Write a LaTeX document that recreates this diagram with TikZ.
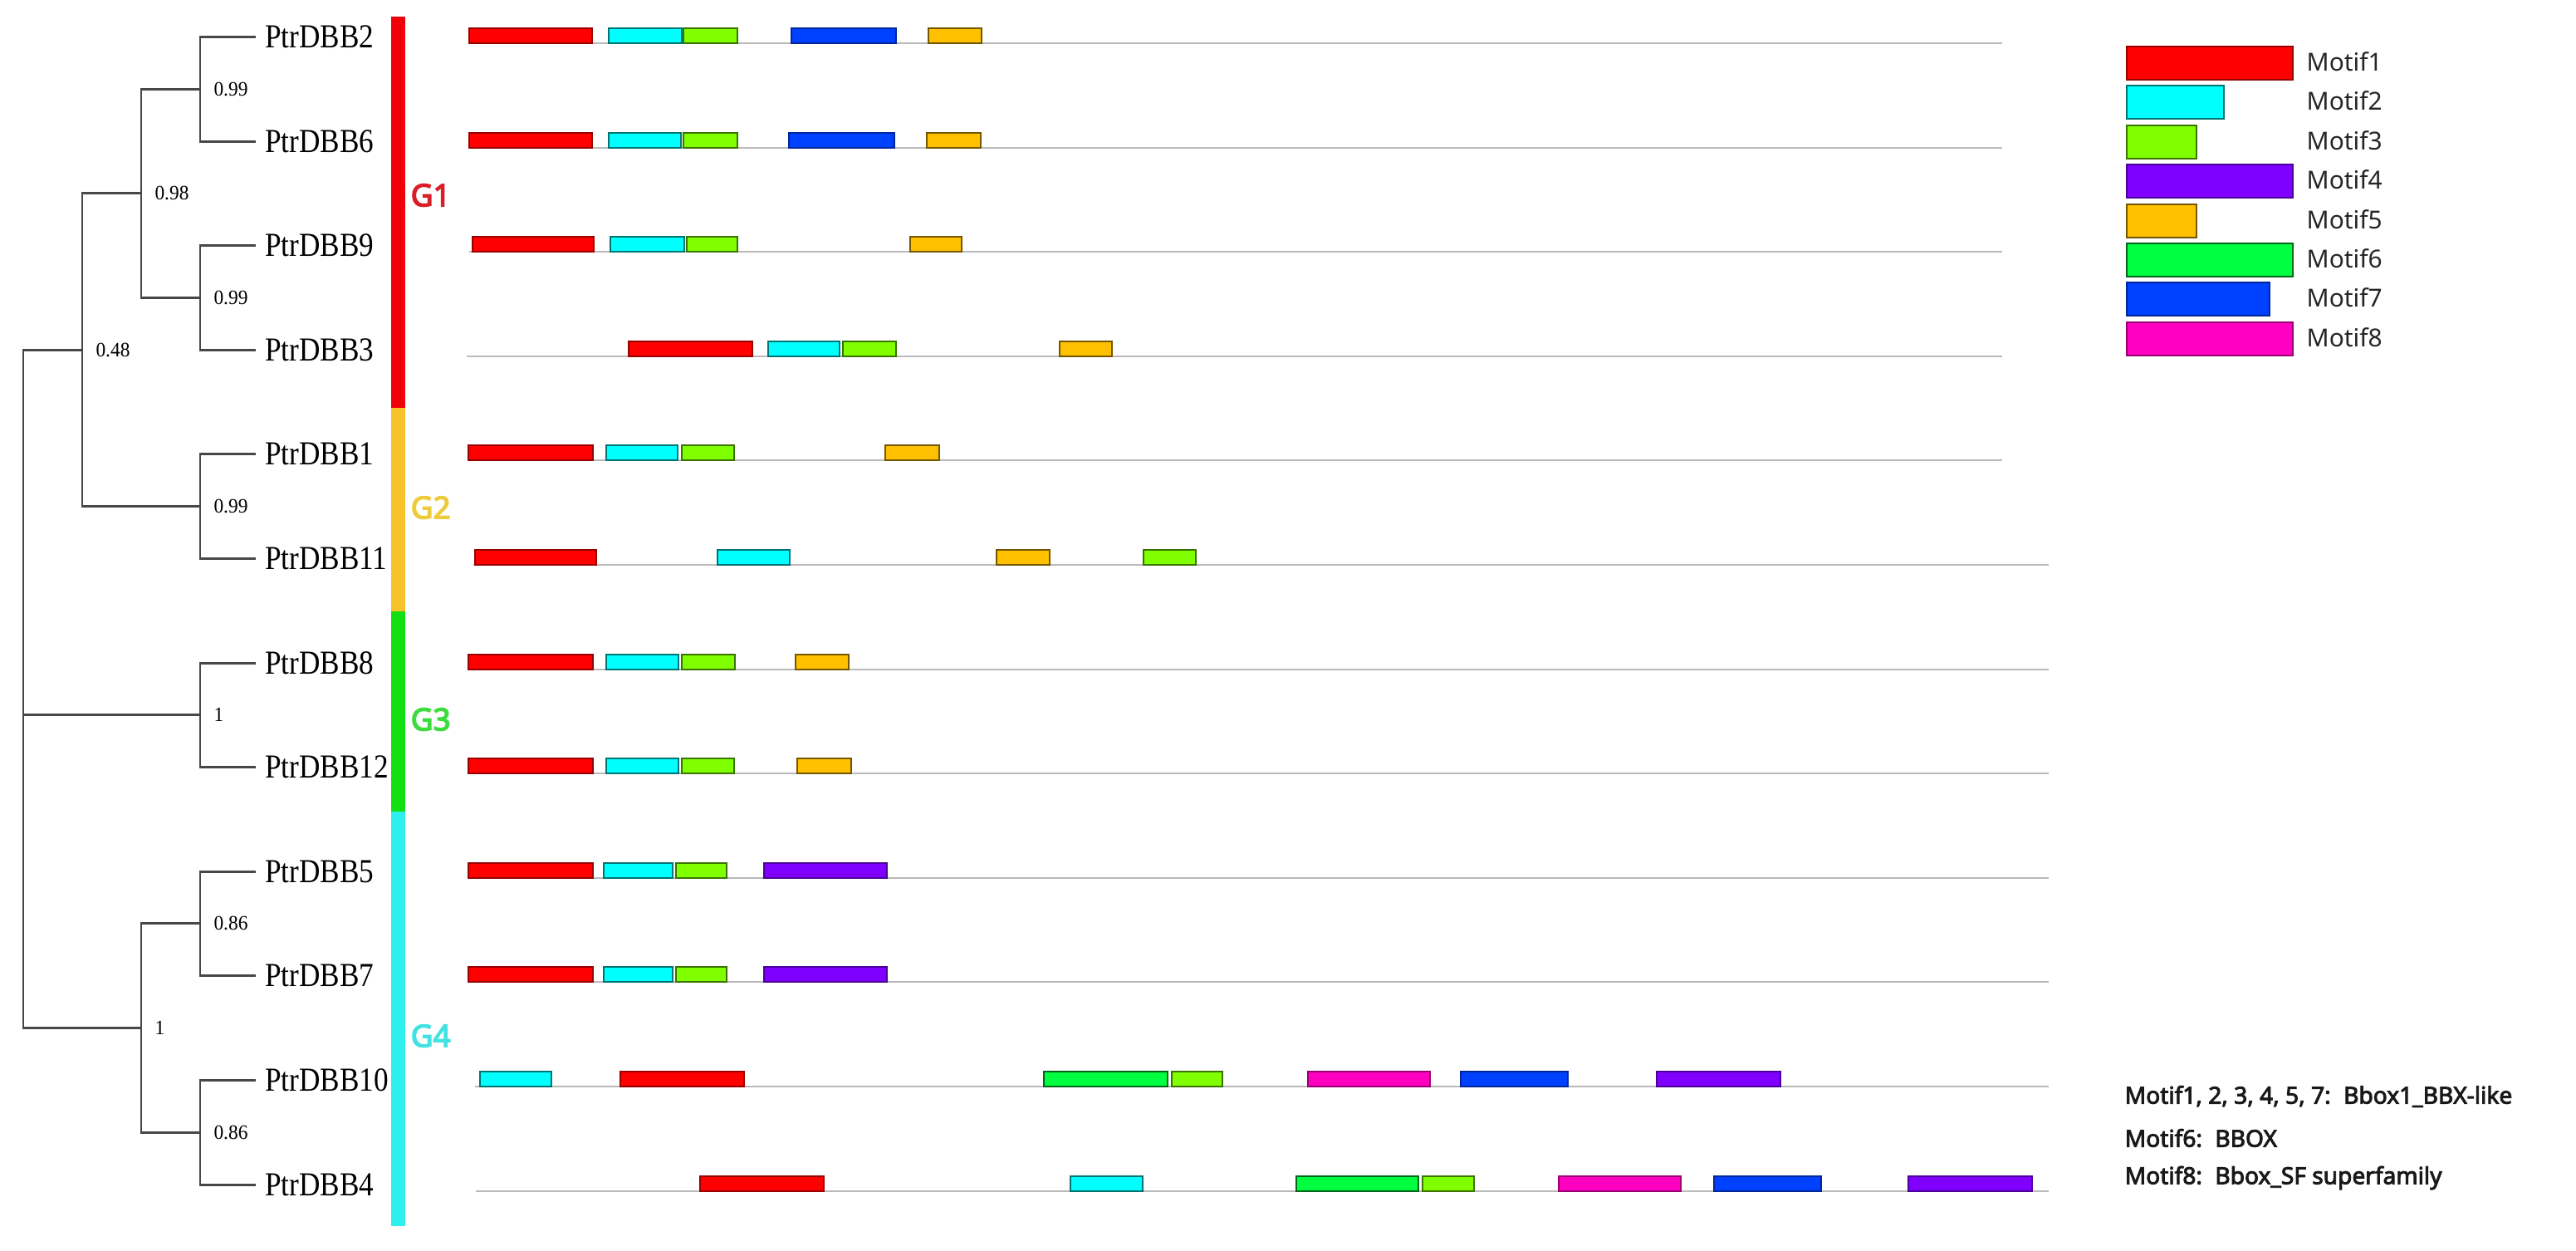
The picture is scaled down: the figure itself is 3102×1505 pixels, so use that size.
\documentclass[tikz,border=0pt]{standalone}
\usepackage{fontspec}
\setmainfont{Liberation Serif}
\newfontfamily\leaffont[FakeStretch=0.87]{Liberation Serif}
\newfontfamily\bootfont[FakeStretch=0.95]{Liberation Serif}
\newfontfamily\uifont{Noto Sans}
\newfontfamily\uibold[FakeBold=4]{Noto Sans}
\newfontfamily\notebold[FakeBold=3.2]{Noto Sans}
\definecolor{M1}{HTML}{FF0000}
\definecolor{M2}{HTML}{00FFFF}
\definecolor{M3}{HTML}{80FF00}
\definecolor{M4}{HTML}{8000FF}
\definecolor{M5}{HTML}{FFC000}
\definecolor{M6}{HTML}{00FF40}
\definecolor{M7}{HTML}{0040FF}
\definecolor{M8}{HTML}{FF00C0}
\definecolor{GB1}{HTML}{F00008}
\definecolor{GB2}{HTML}{F7C22A}
\definecolor{GB3}{HTML}{12E012}
\definecolor{GB4}{HTML}{2EEEEE}
\definecolor{GT1}{HTML}{D81E28}
\definecolor{GT2}{HTML}{ECCB3C}
\definecolor{GT3}{HTML}{3CDC3C}
\definecolor{GT4}{HTML}{40E2E2}
\tikzset{
  tree/.style={draw=black!72, line width=0.85pt},
  gline/.style={draw=black!27, line width=0.8pt},
  leaf/.style={anchor=west, inner xsep=3pt, inner ysep=1pt, font=\leaffont\fontsize{11.5}{12}\selectfont},
  boot/.style={anchor=west, inner sep=0.5pt, font=\bootfont\fontsize{7}{8}\selectfont},
  grp/.style={anchor=west, inner sep=0pt, font=\uibold\fontsize{10.5}{11}\selectfont},
  legtxt/.style={anchor=west, inner sep=0pt, text=black!85, font=\uifont\fontsize{8.5}{9}\selectfont},
  note/.style={anchor=west, inner sep=0pt, text=black!90, font=\notebold\fontsize{8}{9}\selectfont},
  m1/.style={fill=M1, draw=M1!60!black, line width=0.45pt},
  m2/.style={fill=M2, draw=M2!45!black, line width=0.45pt},
  m3/.style={fill=M3, draw=M3!45!black, line width=0.45pt},
  m4/.style={fill=M4, draw=M4!60!black, line width=0.45pt},
  m5/.style={fill=M5, draw=M5!45!black, line width=0.45pt},
  m6/.style={fill=M6, draw=M6!40!black, line width=0.45pt},
  m7/.style={fill=M7, draw=M7!60!black, line width=0.45pt},
  m8/.style={fill=M8, draw=M8!60!black, line width=0.45pt},
}
\newcommand\motifbar[4]{\draw[m#1] (#3,#2-18) rectangle (#4,#2);}
\newcommand\legbar[4]{\draw[m#1] (2561,#2-20) rectangle (#3,#2+20);
  \node[legtxt] (leg#1) at (2777,#2-2) {#4};}
\begin{document}
\begin{tikzpicture}[x=0.01cm, y=-0.01cm]
\useasboundingbox (0,0) rectangle (3102,1505);

% ---------- tree: internal nodes ----------
\coordinate (na) at (241,107);
\coordinate (nb) at (241,358);
\coordinate (nc) at (170,232.5);
\coordinate (nd) at (241,609);
\coordinate (ne) at (99,421);
\coordinate (nf) at (241,860.5);
\coordinate (ng) at (241,1111.5);
\coordinate (nh) at (241,1363);
\coordinate (nk) at (170,1237);
\coordinate (nr) at (28,860.5);

% ---------- leaves ----------
\node[leaf] (DBB2)  at (308,44)   {PtrDBB2};
\node[leaf] (DBB6)  at (308,170)  {PtrDBB6};
\node[leaf] (DBB9)  at (308,295)  {PtrDBB9};
\node[leaf] (DBB3)  at (308,421)  {PtrDBB3};
\node[leaf] (DBB1)  at (308,546)  {PtrDBB1};
\node[leaf] (DBB11) at (308,672)  {PtrDBB11};
\node[leaf] (DBB8)  at (308,798)  {PtrDBB8};
\node[leaf] (DBB12) at (308,923)  {PtrDBB12};
\node[leaf] (DBB5)  at (308,1049) {PtrDBB5};
\node[leaf] (DBB7)  at (308,1174) {PtrDBB7};
\node[leaf] (DBB10) at (308,1300) {PtrDBB10};
\node[leaf] (DBB4)  at (308,1426) {PtrDBB4};

% ---------- branches ----------
\draw[tree] (na) |- (DBB2.west);  \draw[tree] (na) |- (DBB6.west);
\draw[tree] (nb) |- (DBB9.west);  \draw[tree] (nb) |- (DBB3.west);
\draw[tree] (nd) |- (DBB1.west);  \draw[tree] (nd) |- (DBB11.west);
\draw[tree] (nf) |- (DBB8.west);  \draw[tree] (nf) |- (DBB12.west);
\draw[tree] (ng) |- (DBB5.west);  \draw[tree] (ng) |- (DBB7.west);
\draw[tree] (nh) |- (DBB10.west); \draw[tree] (nh) |- (DBB4.west);
\draw[tree] (nc) |- (na); \draw[tree] (nc) |- (nb);
\draw[tree] (ne) |- (nc); \draw[tree] (ne) |- (nd);
\draw[tree] (nk) |- (ng); \draw[tree] (nk) |- (nh);
\draw[tree] (nr) |- (ne); \draw[tree] (nr) |- (nk); \draw[tree] (nr) -- (nf);

% ---------- support values ----------
\node[boot] (ba) at ([xshift=4]na) {0.99};
\node[boot] (bb) at ([xshift=4]nb) {0.99};
\node[boot] (bc) at ([xshift=4]nc) {0.98};
\node[boot] (bd) at ([xshift=4]nd) {0.99};
\node[boot] (be) at ([xshift=4]ne) {0.48};
\node[boot] (bf) at ([xshift=4]nf) {1};
\node[boot] (bg) at ([xshift=4]ng) {0.86};
\node[boot] (bh) at ([xshift=4]nh) {0.86};
\node[boot] (bk) at ([xshift=4]nk) {1};

% ---------- group bar ----------
\fill[GB1] (471,20) rectangle (488,491);
\fill[GB2] (471,491) rectangle (488,736);
\fill[GB3] (471,736) rectangle (488,977);
\fill[GB4] (471,977) rectangle (488,1476);
\node[grp, text=GT1] (G1) at (494,235) {G1};
\node[grp, text=GT2] (G2) at (494,611) {G2};
\node[grp, text=GT3] (G3) at (494,866) {G3};
\node[grp, text=GT4] (G4) at (494,1247) {G4};

% ---------- gene lines ----------
\draw[gline] (565,52) -- (2411,52);
\draw[gline] (565,178) -- (2411,178);
\draw[gline] (565,303) -- (2411,303);
\draw[gline] (562,429) -- (2411,429);
\draw[gline] (565,554) -- (2411,554);
\draw[gline] (570,680) -- (2467,680);
\draw[gline] (565,806) -- (2467,806);
\draw[gline] (565,931) -- (2467,931);
\draw[gline] (565,1057) -- (2467,1057);
\draw[gline] (565,1182) -- (2467,1182);
\draw[gline] (572,1308) -- (2467,1308);
\draw[gline] (573,1434) -- (2467,1434);

% ---------- motifs ----------
% PtrDBB2
\motifbar{1}{52}{565}{713}\motifbar{2}{52}{733}{821}\motifbar{3}{52}{823}{888}
\motifbar{7}{52}{953}{1079}\motifbar{5}{52}{1118}{1182}
% PtrDBB6
\motifbar{1}{178}{565}{713}\motifbar{2}{178}{733}{820}\motifbar{3}{178}{823}{888}
\motifbar{7}{178}{950}{1077}\motifbar{5}{178}{1116}{1181}
% PtrDBB9
\motifbar{1}{303}{569}{715}\motifbar{2}{303}{735}{824}\motifbar{3}{303}{827}{888}
\motifbar{5}{303}{1096}{1158}
% PtrDBB3
\motifbar{1}{429}{757}{906}\motifbar{2}{429}{925}{1011}\motifbar{3}{429}{1015}{1079}
\motifbar{5}{429}{1276}{1339}
% PtrDBB1
\motifbar{1}{554}{564}{714}\motifbar{2}{554}{730}{816}\motifbar{3}{554}{821}{884}
\motifbar{5}{554}{1066}{1131}
% PtrDBB11
\motifbar{1}{680}{572}{718}\motifbar{2}{680}{864}{951}\motifbar{5}{680}{1200}{1264}
\motifbar{3}{680}{1377}{1440}
% PtrDBB8
\motifbar{1}{806}{564}{714}\motifbar{2}{806}{730}{817}\motifbar{3}{806}{821}{885}
\motifbar{5}{806}{958}{1022}
% PtrDBB12
\motifbar{1}{931}{564}{714}\motifbar{2}{931}{730}{817}\motifbar{3}{931}{821}{884}
\motifbar{5}{931}{960}{1025}
% PtrDBB5
\motifbar{1}{1057}{564}{714}\motifbar{2}{1057}{727}{810}\motifbar{3}{1057}{814}{875}
\motifbar{4}{1057}{920}{1068}
% PtrDBB7
\motifbar{1}{1182}{564}{714}\motifbar{2}{1182}{727}{810}\motifbar{3}{1182}{814}{875}
\motifbar{4}{1182}{920}{1068}
% PtrDBB10
\motifbar{2}{1308}{578}{664}\motifbar{1}{1308}{747}{896}\motifbar{6}{1308}{1257}{1406}
\motifbar{3}{1308}{1411}{1472}\motifbar{8}{1308}{1575}{1722}\motifbar{7}{1308}{1759}{1888}
\motifbar{4}{1308}{1995}{2144}
% PtrDBB4
\motifbar{1}{1434}{843}{992}\motifbar{2}{1434}{1289}{1376}\motifbar{6}{1434}{1561}{1708}
\motifbar{3}{1434}{1713}{1775}\motifbar{8}{1434}{1877}{2024}\motifbar{7}{1434}{2064}{2193}
\motifbar{4}{1434}{2298}{2447}

% ---------- legend ----------
\legbar{1}{76}{2761}{Motif1}
\legbar{2}{123}{2678}{Motif2}
\legbar{3}{171}{2645}{Motif3}
\legbar{4}{218}{2761}{Motif4}
\legbar{5}{266}{2645}{Motif5}
\legbar{6}{313}{2761}{Motif6}
\legbar{7}{360}{2733}{Motif7}
\legbar{8}{408}{2761}{Motif8}

% ---------- notes ----------
\node[note] (note1) at (2558,1320) {Motif1, 2, 3, 4, 5, 7:\hspace{0.55em}Bbox1\_BBX-like};
\node[note] (note2) at (2558,1370) {Motif6:\hspace{0.55em}BBOX};
\node[note] (note3) at (2558,1418) {Motif8:\hspace{0.55em}Bbox\_SF superfamily};
\end{tikzpicture}
\end{document}
